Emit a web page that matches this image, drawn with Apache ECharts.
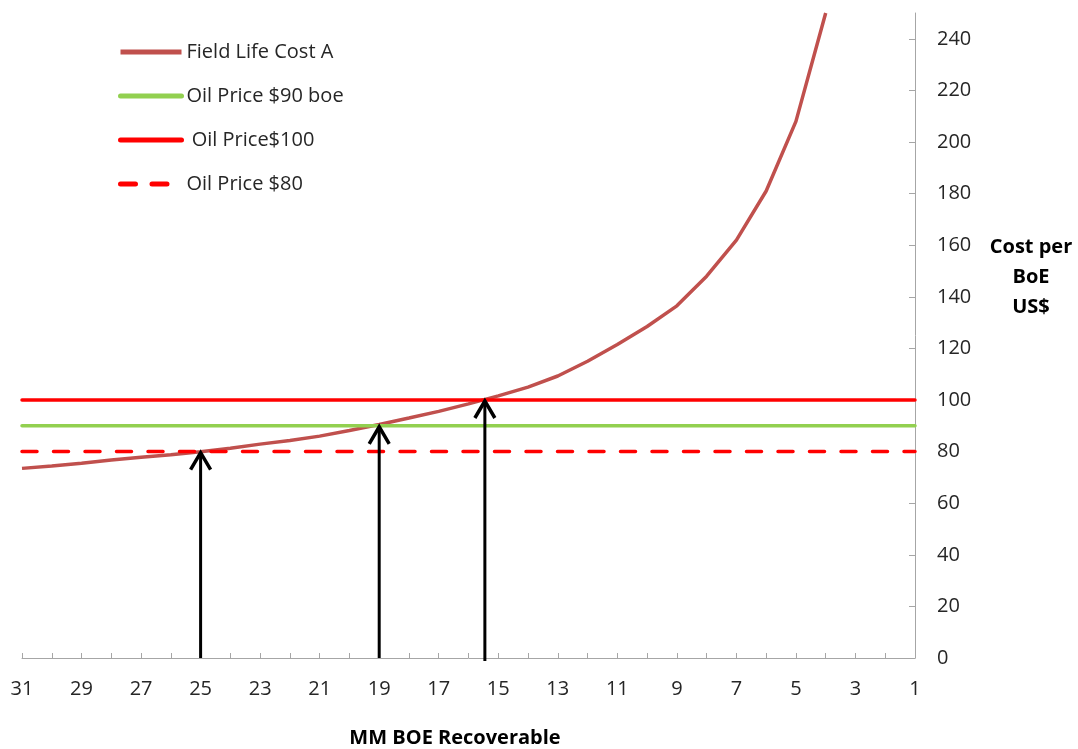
<!DOCTYPE html>
<html>
<head>
<meta charset="utf-8">
<title>Field Life Cost vs Oil Price</title>
<script src="https://cdn.jsdelivr.net/npm/echarts@6/dist/echarts.min.js"></script>
<style>
  html, body { margin: 0; padding: 0; background: #fff; }
  #chart { width: 1078px; height: 749px; }
</style>
</head>
<body>
<div id="chart"></div>
<script>
// Recoverable reserves (MM BOE), plotted from 31 down to 1
const recoverable = [31, 30, 29, 28, 27, 26, 25, 24, 23, 22, 21, 20, 19, 18, 17, 16, 15, 14, 13, 12, 11, 10, 9, 8, 7, 6, 5, 4];
// Field life cost per BoE (US$) at each reserve size
const fieldLifeCostA = [73.5, 74.4, 75.5, 76.7, 77.8, 78.8, 79.9, 81.3, 82.9, 84.3, 86.0, 88.2, 90.5, 93.0, 95.6, 98.5, 101.6, 105.0, 109.3, 115.0, 121.5, 128.5, 136.5, 148, 162, 181, 208, 250];

// Flat oil price scenarios
const priceNames = ['Oil Price $90 boe', ' Oil Price$100', 'Oil Price $80'];
const priceValues = [90, 100, 80];
const xSpan = [31, 1];

// Break-even reserve sizes where cost meets each price
const breakEvenX = [25, 19, 15.45];
const breakEvenPrice = [80, 90, 100];
const arrowBase = [0, 0, -1.2];

// Axis tick labels
const xTickLabels = [31, 29, 27, 25, 23, 21, 19, 17, 15, 13, 11, 9, 7, 5, 3, 1];
const xTicks = recoverable.concat([3, 2, 1]);
const yTickLabels = [0, 20, 40, 60, 80, 100, 120, 140, 160, 180, 200, 220, 240];

const FONT = '"Open Sans", Lato, sans-serif';
const TEXT = '#262626';
const AXIS = '#a6a6a6';

const chart = echarts.init(document.getElementById('chart'), null, { renderer: 'canvas' });

const priceStyles = [
  { color: '#92d050', type: 'solid' },
  { color: '#ff0000', type: 'solid' },
  { color: '#ff0000', type: [15, 16.5] }
];

const series = [
  {
    name: 'Field Life Cost A',
    type: 'line',
    data: recoverable.map((x, i) => [x, fieldLifeCostA[i]]),
    showSymbol: false,
    symbol: 'none',
    smooth: false,
    lineStyle: { color: '#c0504d', width: 3.5 },
    itemStyle: { color: '#c0504d' },
    z: 2
  }
];

priceNames.forEach((name, i) => {
  series.push({
    name: name,
    type: 'line',
    data: xSpan.map(x => [x, priceValues[i]]),
    showSymbol: false,
    symbol: 'none',
    lineStyle: { color: priceStyles[i].color, width: 3.5, type: priceStyles[i].type, cap: 'round' },
    itemStyle: { color: priceStyles[i].color },
    z: 3
  });
});

// Upward arrows from the reserve axis to each break-even point
series.push({
  name: 'break-even',
  type: 'custom',
  data: breakEvenX.map((x, i) => [x, arrowBase[i], breakEvenPrice[i]]),
  encode: { x: 0, y: [1, 2] },
  z: 5,
  silent: true,
  renderItem: function (params, api) {
    const b = api.coord([api.value(0), api.value(1)]);
    const t = api.coord([api.value(0), api.value(2)]);
    const w = 10, h = 18;
    return {
      type: 'group',
      children: [
        { type: 'line', shape: { x1: b[0], y1: b[1], x2: t[0], y2: t[1] + 1 },
          style: { stroke: '#000', lineWidth: 3 } },
        { type: 'polyline',
          shape: { points: [[t[0] - w, t[1] + h], [t[0], t[1] + 1], [t[0] + w, t[1] + h]] },
          style: { stroke: '#000', lineWidth: 3.5, fill: null, lineJoin: 'miter' } }
      ]
    };
  }
});

chart.setOption({
  backgroundColor: '#fff',
  animation: false,
  grid: { left: 22, right: 163, top: 13, bottom: 91, containLabel: false },
  legend: {
    data: ['Field Life Cost A'].concat(priceNames),
    orient: 'vertical',
    left: 113,
    top: 37,
    itemWidth: 61,
    itemHeight: 14,
    itemGap: 24,
    itemStyle: { opacity: 0 },
    lineStyle: { width: 5 },
    textStyle: { fontFamily: FONT, fontSize: 20, color: TEXT }
  },
  xAxis: {
    type: 'value',
    min: 1,
    max: 31,
    inverse: true,
    splitLine: { show: false },
    axisLine: { show: true, onZero: false, lineStyle: { color: AXIS, width: 1 } },
    axisTick: { show: true, inside: true, length: 5, customValues: xTicks, lineStyle: { color: AXIS } },
    axisLabel: { customValues: xTickLabels, margin: 21, fontFamily: FONT, fontSize: 20, color: TEXT }
  },
  yAxis: {
    type: 'value',
    position: 'right',
    min: 0,
    max: 250,
    splitLine: { show: false },
    axisLine: { show: true, lineStyle: { color: AXIS, width: 1 } },
    axisTick: { show: true, inside: true, length: 6, customValues: yTickLabels, lineStyle: { color: AXIS } },
    axisLabel: { customValues: yTickLabels, margin: 22, fontFamily: FONT, fontSize: 20, color: TEXT }
  },
  graphic: [
    {
      type: 'text',
      x: 455, y: 738,
      style: { text: 'MM BOE Recoverable', font: 'bold 20px ' + FONT, fill: '#000',
               align: 'center', verticalAlign: 'middle' }
    },
    {
      type: 'text',
      x: 1031, y: 277,
      style: { text: 'Cost per\nBoE\nUS$', font: 'bold 20px ' + FONT, fill: '#000',
               align: 'center', verticalAlign: 'middle', lineHeight: 30 }
    }
  ],
  series: series
});
</script>
</body>
</html>
